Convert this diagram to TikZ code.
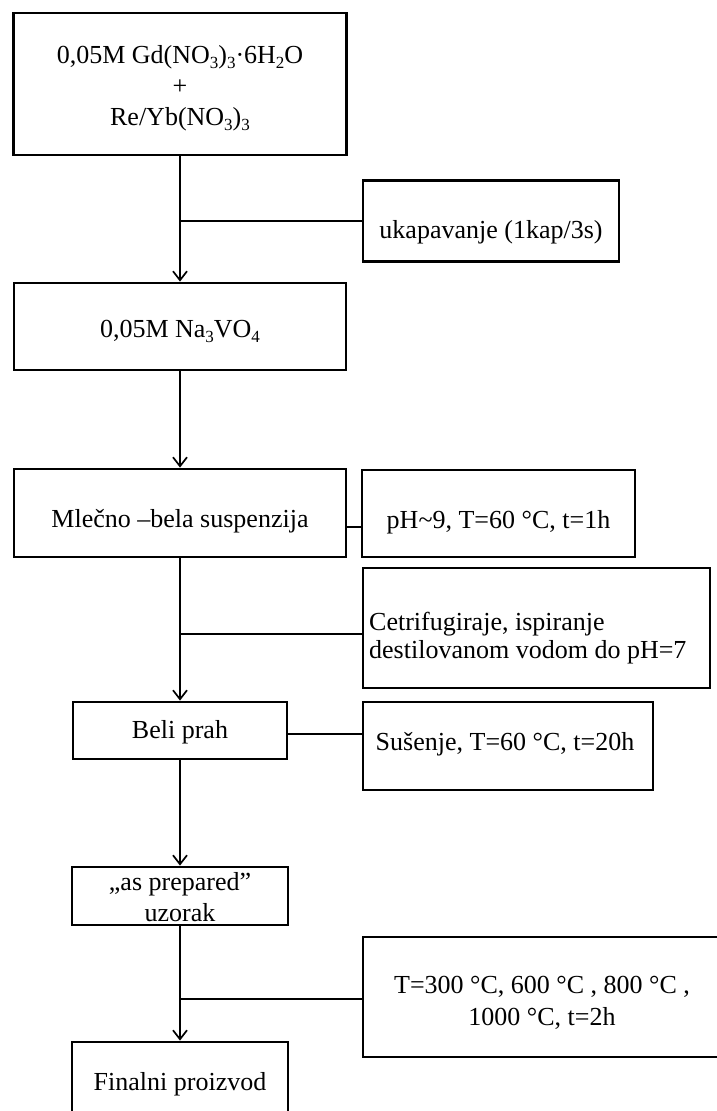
\documentclass[tikz,border=0pt]{standalone}
\usepackage{fontspec}
\setmainfont{Liberation Serif}
\usetikzlibrary{arrows.meta}
\newcommand\sbs[1]{\raisebox{-0.22em}{\fontsize{17}{17}\selectfont #1}}
\begin{document}
\begin{tikzpicture}[x=1pt,y=-1pt,
  box/.style={draw, line width=2.8pt, inner sep=0pt},
  txt/.style={inner sep=0pt, font=\fontsize{26}{30}\selectfont},
  conn/.style={line width=1.7pt},
  arr/.style={conn, -{Straight Barb[length=9pt,width=14pt]}}]
\useasboundingbox (0,0) rectangle (716,1111);
\fill[white] (0,0) rectangle (716,1111);
% main column boxes
\node[box, minimum width=333pt, minimum height=142pt] (b1) at (180,84) {};
\node[box, minimum width=332pt, minimum height=87pt] (b2) at (180,326.5) {};
\node[box, minimum width=332pt, minimum height=88pt] (b3) at (180,513) {};
\node[box, minimum width=214pt, minimum height=57pt] (b4) at (180,730.5) {};
\node[box, minimum width=216pt, minimum height=58pt] (b5) at (180,896) {};
\node[box, minimum width=216pt, minimum height=76pt] (b6) at (180,1080) {};
% side boxes
\node[box, minimum width=256pt, minimum height=81pt] (s1) at (491,221) {};
\node[box, minimum width=273pt, minimum height=87pt] (s3) at (498.5,513.5) {};
\node[box, minimum width=347pt, minimum height=120pt] (s4) at (536.5,628) {};
\node[box, minimum width=290pt, minimum height=88pt] (s5) at (508,746) {};
\node[box, minimum width=358pt, minimum height=120pt] (s6) at (542,997) {};
% texts
\node[txt, anchor=base] (t1a) at (180,63) {0,05M Gd(NO\sbs{3})\sbs{3}·6H\sbs{2}O};
\node[txt, anchor=base] (t1b) at (180,94) {+};
\node[txt, anchor=base] (t1c) at (180,125) {Re/Yb(NO\sbs{3})\sbs{3}};
\node[txt, anchor=base] (ts1) at (491,238) {ukapavanje (1kap/3s)};
\node[txt, anchor=base] (t2) at (180,337) {0,05M Na\sbs{3}VO\sbs{4}};
\node[txt, anchor=base] (t3) at (180,527) {Mlečno –bela suspenzija};
\node[txt, anchor=base] (ts3) at (498.5,528) {pH\textasciitilde 9, T=60 °C, t=1h};
\node[txt, anchor=base west] (ts4a) at (369,630) {Cetrifugiraje, ispiranje};
\node[txt, anchor=base west] (ts4b) at (369,658) {destilovanom vodom do pH=7};
\node[txt, anchor=base] (t4) at (180,738) {Beli prah};
\node[txt, anchor=base] (ts5) at (505,750) {Sušenje, T=60 °C, t=20h};
\node[txt, anchor=base] (t5a) at (180,890) {„as prepared”};
\node[txt, anchor=base] (t5b) at (180,921) {uzorak};
\node[txt, anchor=base] (ts6a) at (542,993) {T=300 °C, 600 °C , 800 °C ,};
\node[txt, anchor=base] (ts6b) at (542,1025) {1000 °C, t=2h};
\node[txt, anchor=base] (t6) at (180,1090) {Finalni proizvod};
% connectors
\draw[arr] (b1.south) -- (b2.north);
\draw[arr] (b2.south) -- (b3.north);
\draw[arr] (b3.south) -- (b4.north);
\draw[arr] (b4.south) -- (b5.north);
\draw[arr] (b5.south) -- (b6.north);
\draw[conn] (s1.west) -- (s1.west -| b1.south);
\draw[conn] ([yshift=-14pt]b3.east) -- ([yshift=-14pt]b3.east -| s3.west);
\draw[conn] ([yshift=-6pt]s4.west) -- ([yshift=-6pt]s4.west -| b3.south);
\draw[conn] ([yshift=-3.5pt]b4.east) -- ([yshift=-3.5pt]b4.east -| s5.west);
\draw[conn] ([yshift=-2pt]s6.west) -- ([yshift=-2pt]s6.west -| b5.south);
\end{tikzpicture}
\end{document}
